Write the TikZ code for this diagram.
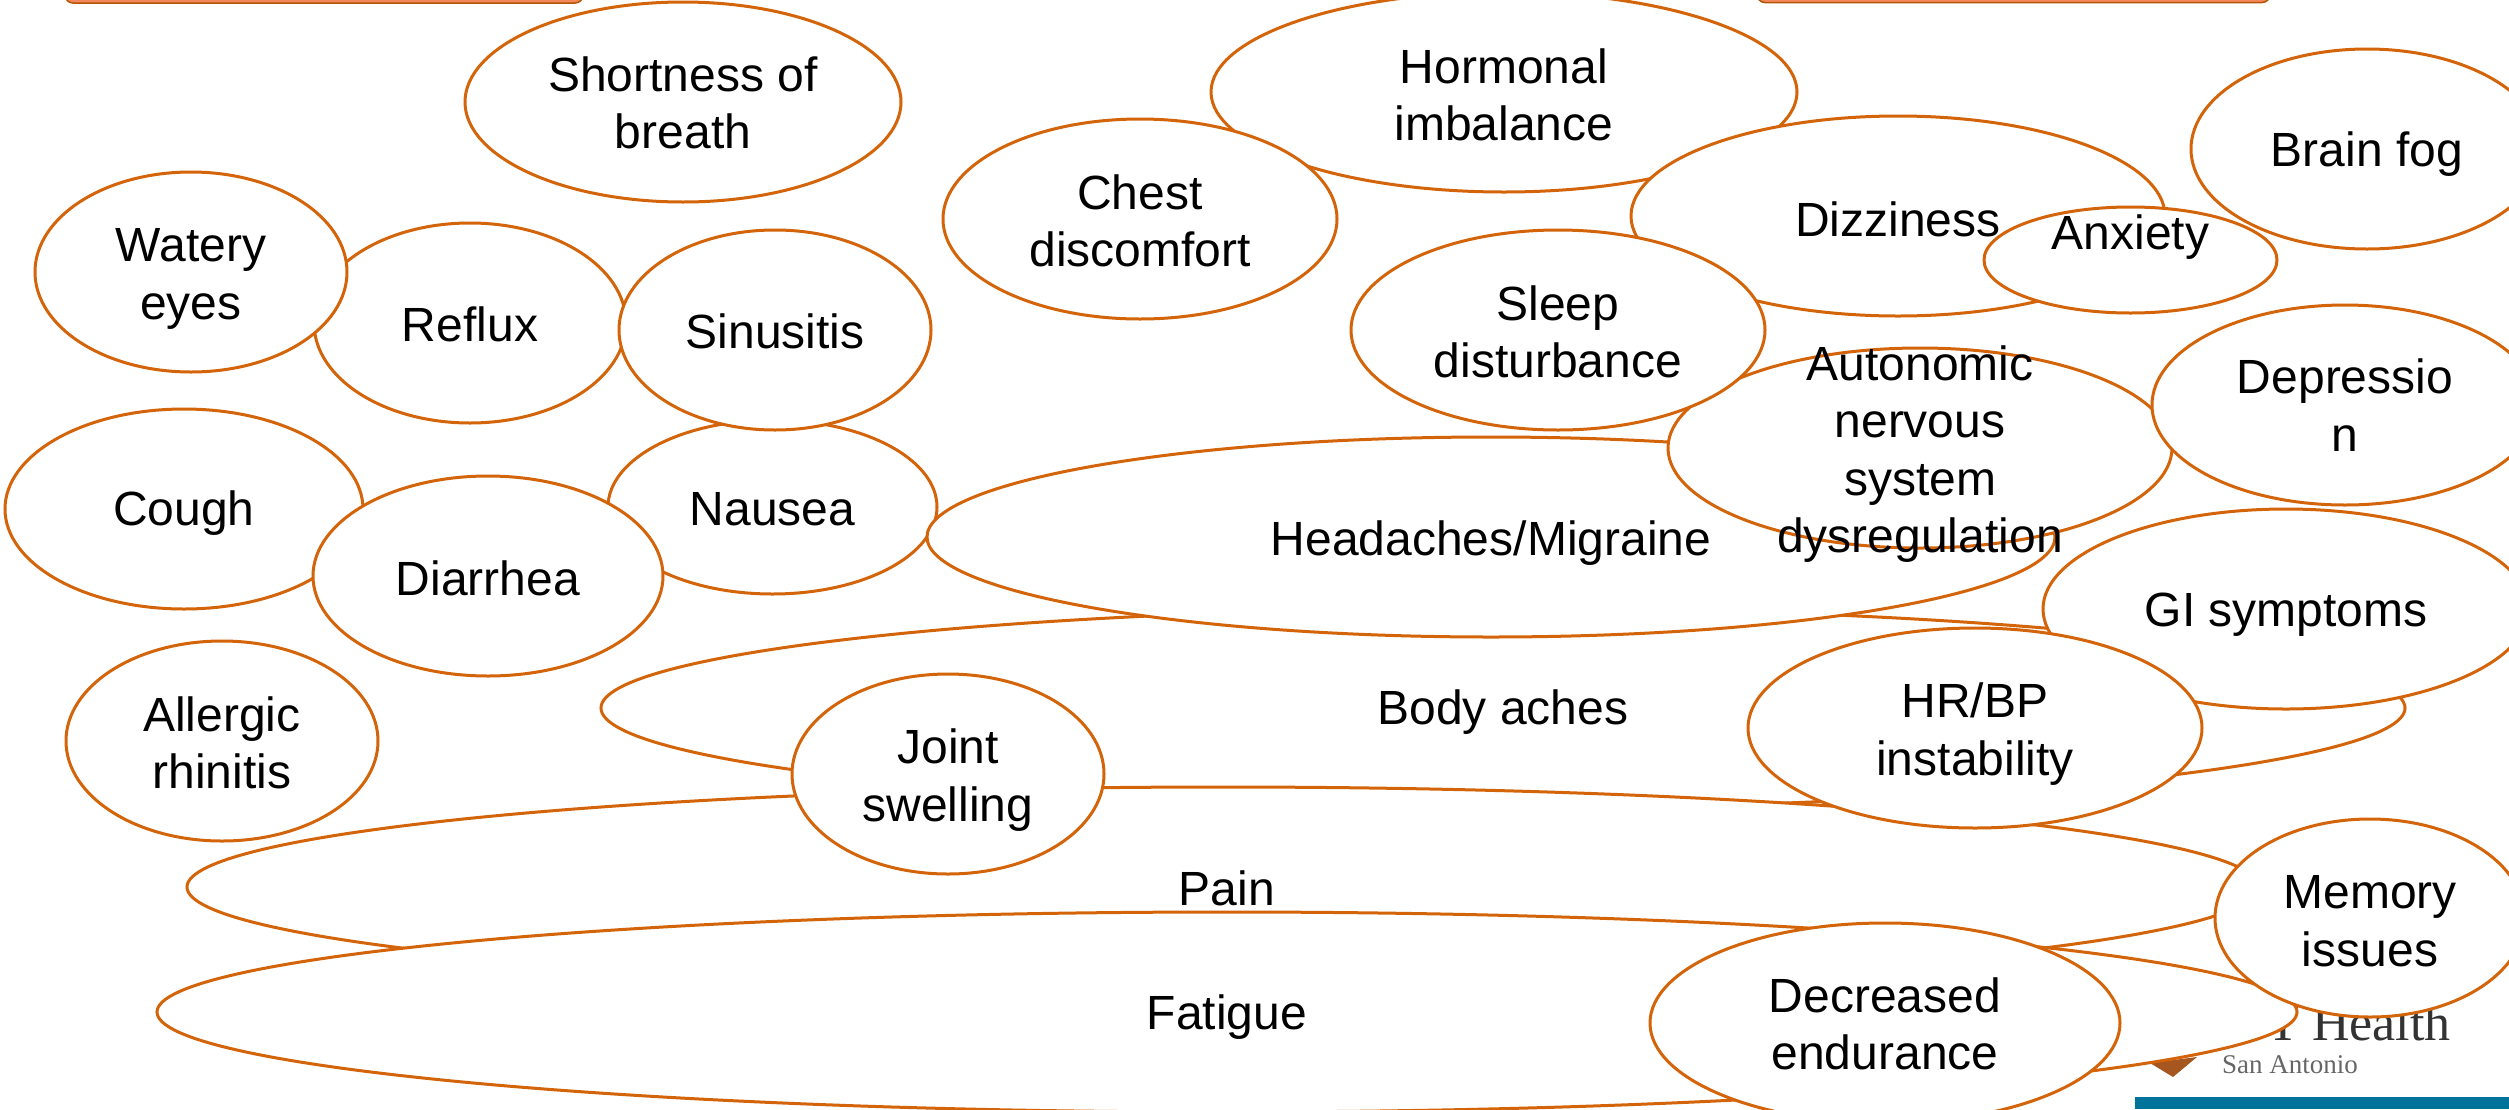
\documentclass[tikz,border=0pt]{standalone}
\usepackage{fontspec}
\setmainfont{Liberation Sans}
\newfontfamily\logofont{Liberation Serif}
\usetikzlibrary{shapes.geometric}
\definecolor{oline}{HTML}{D4640A}
\definecolor{obar}{HTML}{F4885A}
\definecolor{tealbar}{HTML}{00739A}
\definecolor{logobrown}{HTML}{A6561F}
\tikzset{
  blob/.style={ellipse,draw=oline,line width=3pt,fill=white,inner sep=0pt,outer sep=0pt},
  lab/.style={align=center,inner sep=0pt,text=black,font=\fontsize{48}{57.6}\selectfont},
  topbar/.style={draw=oline!85!black,line width=1.5pt,fill=obar,rounded corners=8pt},
}
\newcommand{\blobat}[5]{\node[blob,minimum width=#4*2pt,minimum height=#5*2pt] (#1) at (#2,#3) {};}
\newcommand{\labat}[4]{\node[lab] (#1-t) at (#2,#3) {#4};}
\newcommand{\el}[7][0]{\blobat{#2}{#3}{#4}{#5}{#6}\labat{#2}{#3}{#4+#1}{#7}}
\begin{document}
\begin{tikzpicture}[x=1pt,y=-1pt]
\useasboundingbox (0,0) rectangle (2509,1109);
\clip (0,0) rectangle (2509,1109);
% logo and bars
\node[inner sep=0pt,anchor=base east,text=black!80,font=\logofont\fontsize{52}{52}\selectfont] (health) at (2451,1040) {T Health};
\node[inner sep=0pt,anchor=base west,text=black!60,font=\logofont\fontsize{27}{27}\selectfont] (sanant) at (2222,1073) {San Antonio};
\fill[logobrown] (2150,1063) -- (2197,1057) -- (2173,1077) -- cycle;
\fill[tealbar] (2135,1097) rectangle (2509,1109);
\draw[topbar] (65,-30) rectangle (583,3);
\draw[topbar] (1757,-30) rectangle (2270,2.5);
% ellipses, back to front
\el[1]{shortness}{683}{102}{218}{100}{Shortness of\\breath}
\el[3]{hormonal}{1504}{92}{293}{100}{Hormonal\\imbalance}
\el[2]{chest}{1140}{219}{197}{100}{Chest\\discomfort}
\blobat{dizziness}{1898}{216}{267}{100}
\blobat{anxiety}{2130.5}{260}{146.5}{53}
\labat{dizziness}{1898}{219}{Dizziness}
\labat{anxiety}{2130.5}{237}{Anxiety}
\el[5]{brainfog}{2367}{149}{176}{100}{Brain fog}
\el[1]{reflux}{470}{323}{156}{100}{Reflux}
\el[7]{watery}{191}{272}{156}{100}{Watery\\eyes}
\el[2]{nausea}{772.5}{507}{164.5}{87}{Nausea}
\el[1]{sinusitis}{775}{330}{156}{100}{Sinusitis}
\el[4]{cough}{184}{509}{179}{100}{Cough}
\el[2]{diarrhea}{488}{576}{175}{100}{Diarrhea}
\el[2]{allergic}{222}{741}{156}{100}{Allergic\\rhinitis}
\el[4]{body}{1503}{708}{902}{100}{Body aches}
\el[6]{gi}{2286}{609}{243}{100}{GI symptoms}
\blobat{headaches}{1491}{537}{564}{100}
\labat{headaches}{1491}{543}{Headaches/Migraine}
\el[6]{autonomic}{1920}{448}{252}{100}{Autonomic\\nervous\\system\\dysregulation}
\el[2]{sleep}{1558}{330}{207}{100}{Sleep\\disturbance}
\el{depression}{2345}{405}{193}{100}{Depressio\\n}
\blobat{pain}{1223}{887}{1036}{100}
\labat{pain}{1227}{888}{Pain}
\el[6]{joint}{948}{774}{156}{100}{Joint\\swelling}
\el[6]{hrbp}{1975}{728}{227}{100}{HR/BP\\instability}
\el[5]{fatigue}{1227}{1012}{1070}{100}{Fatigue}
\el[1]{decreased}{1885}{1023}{235}{100}{Decreased\\endurance}
\el[3]{memory}{2370}{918}{155}{99}{Memory\\issues}
\end{tikzpicture}
\end{document}
